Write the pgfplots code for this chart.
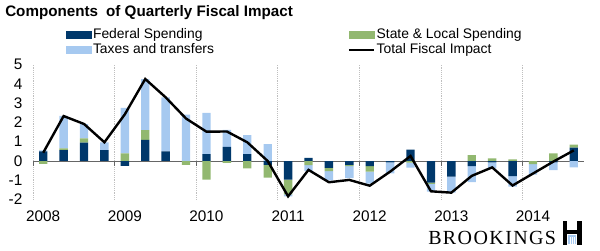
\documentclass[border=0pt]{standalone}
\usepackage{fontspec}
\setmainfont{Liberation Sans}
\newfontfamily\brkfont[LetterSpace=7]{Liberation Serif}
\usepackage{pgfplots}
\usepackage{pgfplotstable}
\pgfplotsset{compat=1.18}
\definecolor{fedc}{RGB}{0,56,107}
\definecolor{slc}{RGB}{146,184,112}
\definecolor{taxc}{RGB}{166,201,240}

% quarter index 0 = 2008Q1 ... 26 = 2014Q3
\pgfplotstableread{
q fed sl tax total
0 0.50 -0.15 0.05 0.43
1 0.57 0.09 1.68 2.33
2 0.95 0.22 0.74 1.92
3 0.57 0.00 0.40 0.97
4 -0.25 0.40 2.35 2.42
5 1.10 0.50 2.65 4.25
6 0.50 0.00 2.80 3.30
7 0.00 -0.20 2.40 2.20
8 0.36 -0.97 2.14 1.52
9 0.73 -0.10 0.88 1.53
10 0.36 -0.38 0.98 0.97
11 -0.20 -0.66 0.88 0.00
12 -0.97 -0.76 -0.10 -1.83
13 0.16 -0.21 -0.30 -0.46
14 -0.36 -0.16 -0.49 -1.10
15 -0.20 -0.06 -0.63 -0.98
16 -0.26 -0.29 -0.62 -1.28
17 -0.07 0.00 -0.57 -0.55
18 0.59 -0.08 -0.26 0.26
19 -1.12 -0.07 -0.40 -1.57
20 -0.81 0.00 -0.83 -1.64
21 -0.26 0.31 -0.83 -0.77
22 -0.07 0.14 -0.31 -0.33
23 -0.78 0.09 -0.55 -1.27
24 0.00 -0.16 -0.54 -0.65
25 -0.07 0.40 -0.40 -0.03
26 0.69 0.16 -0.33 0.55
}\data

\pgfplotsset{
  base/.style={width=413.25pt, height=101.3pt, scale only axis,
    xmin=-0.5, xmax=26.5, ymin=-2, ymax=5, at={(0,0)}, anchor=south west},
}

\begin{document}
\begin{tikzpicture}
\useasboundingbox (-24.75pt,-37.8pt) rectangle (425.25pt,149.7pt);

% positive parts, axis furniture, legend
\begin{axis}[base, ybar stacked, bar width=0.41,
  xtick={-0.5,3.5,7.5,11.5,15.5,19.5,23.5}, xticklabels={},
  xmajorgrids, grid style={densely dotted, color=black!25, line width=0.7pt},
  extra x ticks={0,4,8,12,16,20,24},
  extra x tick labels={2008,2009,2010,2011,2012,2013,2014},
  extra x tick style={grid=none, xticklabel style={yshift=-5pt}},
  ytick={-2,-1,0,1,2,3,4,5},
  axis line style={draw=none}, tick style={draw=none},
  tick label style={font=\fontsize{11.5}{12}\selectfont},
  /pgf/number format/assume math mode=true,
  yticklabel style={xshift=-4.5pt},
  legend columns=2,
  legend style={draw=none, fill=none, at={(0.052,1.30)}, anchor=north west,
    font=\fontsize{10.4}{11}\selectfont, row sep=0pt,
    nodes={inner sep=1.2pt},
    /tikz/column 2/.style={column sep=99pt}},
  legend cell align=left,
]
\addlegendimage{legend image code/.code={\fill[fedc] (0pt,-2.6pt) rectangle (18.75pt,2.6pt);}}
\addlegendentry{Federal Spending}
\addlegendimage{legend image code/.code={\fill[slc] (0pt,-2.6pt) rectangle (18.75pt,2.6pt);}}
\addlegendentry{State \& Local Spending}
\addlegendimage{legend image code/.code={\fill[taxc] (0pt,-2.6pt) rectangle (18.75pt,2.6pt);}}
\addlegendentry{Taxes and transfers}
\addlegendimage{legend image code/.code={\draw[black, line width=1.8pt] (0pt,0pt) -- (18.75pt,0pt);}}
\addlegendentry{Total Fiscal Impact}
\addplot[fill=fedc, draw=none, forget plot] table[x=q, y expr={max(\thisrow{fed},0)}] {\data};
\addplot[fill=slc, draw=none, forget plot] table[x=q, y expr={max(\thisrow{sl},0)}] {\data};
\addplot[fill=taxc, draw=none, forget plot] table[x=q, y expr={max(\thisrow{tax},0)}] {\data};
\end{axis}

% negative parts and zero line
\begin{axis}[base, hide axis, ybar stacked, bar width=0.41]
\addplot[fill=fedc, draw=none] table[x=q, y expr={min(\thisrow{fed},0)}] {\data};
\addplot[fill=slc, draw=none] table[x=q, y expr={min(\thisrow{sl},0)}] {\data};
\addplot[fill=taxc, draw=none] table[x=q, y expr={min(\thisrow{tax},0)}] {\data};
\draw[black!60, line width=0.75pt] (axis cs:-0.5,0) -- (axis cs:26.5,0);
\pgfplotsinvokeforeach{-0.5,3.5,7.5,11.5,15.5,19.5,23.5}{
  \draw[black!60, line width=0.75pt] (axis cs:#1,0) -- ++(0pt,-3.75pt);
}
\end{axis}

% total fiscal impact
\begin{axis}[base, hide axis]
\addplot[black, line width=1.8pt, mark=none] table[x=q, y=total] {\data};
\end{axis}

\node[anchor=base west, inner sep=0pt, font=\fontsize{11.4}{12}\bfseries\selectfont]
  at (-21pt,137.3pt) {Components\hspace{0.25em} of Quarterly Fiscal Impact};

\node[anchor=base west, inner sep=0pt, font=\fontsize{15}{15}\brkfont]
  at (296.25pt,-34pt) {BROOKINGS};
% logo
\fill[black] (397.5pt,-16pt) rectangle (400.5pt,-34pt);
\fill[black] (408pt,-16pt) rectangle (411.5pt,-34pt);
\fill[black] (400.5pt,-23pt) rectangle (408pt,-25.5pt);
\fill[taxc] (401pt,-26.5pt) rectangle (407.5pt,-33.5pt);
\foreach \xx in {402.6,404.2,405.8} \fill[white] (\xx pt,-28pt) rectangle ++(0.5pt,-5.5pt);
\end{tikzpicture}
\end{document}
